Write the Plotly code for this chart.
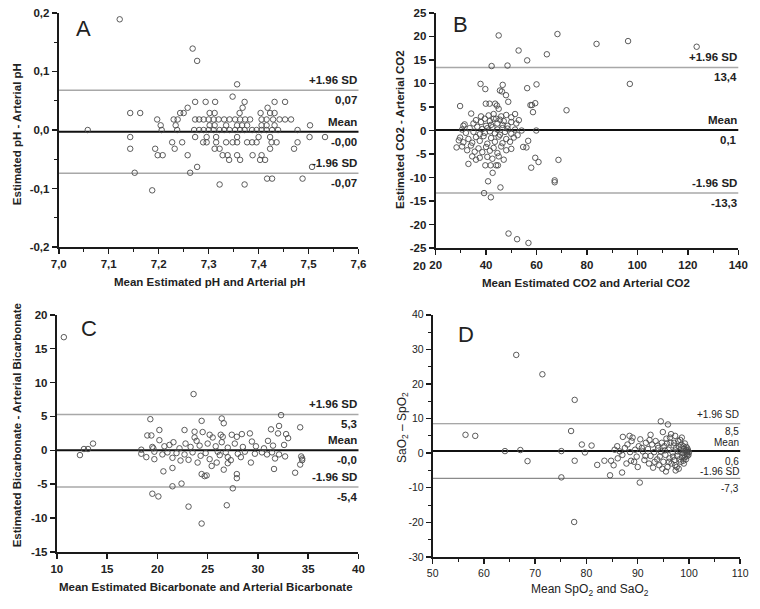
import plotly.graph_objects as go

# ---------------- DATA ----------------
# Panel A: Estimated pH vs arterial pH (Bland-Altman)
A_rows = {
    0.189: [7.122],
    0.139: [7.268],
    0.118: [7.277],
    0.078: [7.357],
    0.057: [7.348],
    0.048: [7.273, 7.294, 7.313, 7.372, 7.432, 7.453],
    0.038: [7.258, 7.368, 7.418],
    0.029: [7.143, 7.163, 7.243, 7.250, 7.302, 7.312, 7.362, 7.404, 7.423, 7.432],
    0.018: [7.197, 7.230, 7.238, 7.273, 7.281, 7.290, 7.300, 7.310, 7.320, 7.331, 7.342,
            7.353, 7.363, 7.373, 7.383, 7.406, 7.416, 7.429, 7.442, 7.453, 7.465],
    0.008: [7.204, 7.234, 7.302, 7.312, 7.335, 7.357, 7.367, 7.377, 7.406, 7.416, 7.432, 7.503],
    0.0: [7.058, 7.206, 7.237, 7.271, 7.281, 7.290, 7.300, 7.310, 7.322, 7.331, 7.342, 7.353,
          7.363, 7.372, 7.387, 7.396, 7.406, 7.416, 7.427, 7.439, 7.478],
    -0.012: [7.143, 7.273, 7.296, 7.315, 7.357, 7.400, 7.423, 7.502, 7.533],
    -0.021: [7.227, 7.247, 7.289, 7.296, 7.315, 7.335, 7.348, 7.357, 7.377, 7.387, 7.396,
             7.426, 7.436, 7.478],
    -0.032: [7.143, 7.193, 7.232, 7.312, 7.322, 7.423, 7.471],
    -0.043: [7.198, 7.208, 7.258, 7.328, 7.338, 7.357, 7.388, 7.406],
    -0.051: [7.341, 7.363, 7.403, 7.413],
    -0.063: [7.277, 7.507],
    -0.073: [7.152, 7.263],
    -0.083: [7.417, 7.427, 7.488],
    -0.093: [7.322, 7.372],
    -0.103: [7.187],
}
A_x = [x for y, xs in A_rows.items() for x in xs]
A_y = [y for y, xs in A_rows.items() for x in xs]
A_limits = [0.068, -0.003, -0.074]
A_labels = ["+1.96 SD", "0,07", "Mean", "-0,00", "-1.96 SD", "-0,07"]

# Panel B: CO2
B_x = [45.0, 68.3, 83.8, 96.3, 123.5, 52.9, 64.1, 56.3, 42.2, 48.5, 97.0, 37.8, 39.7, 46.6,
       45.5, 46.3, 47.9, 56.3, 60.0, 48.8, 29.7, 71.9,
       39.9, 41.4, 43.6, 44.3, 45.0, 57.6, 58.2, 59.5, 58.6,
       34.1, 51.5, 38.0, 41.0, 43.0, 46.0, 48.0, 50.0, 44.0,
       31.5, 31.0, 35.0, 36.0, 38.0, 39.5, 40.0, 41.5, 42.0, 43.0, 44.5, 45.5, 46.5, 47.0,
       48.5, 50.0, 52.0, 53.0,
       30.5, 32.0, 33.5, 35.0, 36.5, 37.5, 38.5, 39.5, 40.5, 41.5, 42.5, 43.5, 44.5, 45.5,
       46.5, 47.5, 48.5, 50.0, 51.5, 54.1, 59.9, 52.5,
       29.7, 29.2, 31.0, 33.0, 34.5, 36.0, 37.5, 39.0, 40.5, 42.0, 43.5, 45.0, 46.5, 48.0,
       49.5, 51.0, 56.7,
       28.3, 30.5, 32.5, 34.0, 35.5, 37.0, 38.5, 40.0, 41.5, 43.0, 44.5, 46.0, 48.0, 50.0,
       54.7, 56.0,
       33.0, 34.5, 36.0, 37.5, 39.7, 41.8, 44.0, 44.7, 40.5, 42.5, 45.0, 47.0, 59.5, 60.8,
       57.9, 68.7,
       42.6, 40.8, 67.2, 67.2, 45.7, 39.2, 41.9, 48.9, 52.3, 56.8]
B_y = [20.2, 20.5, 18.4, 19.0, 17.8, 17.0, 16.2, 14.9, 13.7, 13.8, 9.9, 9.9, 8.8, 9.7,
       8.5, 8.3, 7.5, 9.0, 9.8, 6.1, 5.2, 4.3,
       5.7, 5.7, 5.7, 5.3, 4.6, 5.4, 5.4, 5.8, 3.9,
       3.6, 3.5, 3.0, 3.2, 3.5, 3.0, 3.3, 2.8, 2.5,
       1.3, 1.0, 1.5, 2.2, 1.8, 2.5, 1.0, 2.0, 1.2, 2.5, 1.5, 2.3, 1.2, 2.0,
       1.0, 1.8, 1.5, 2.2,
       0.2, -0.5, 0.5, -0.3, 0.8, -0.8, 0.3, -0.5, 0.5, -0.2, 0.7, -0.6, 0.2, -0.9,
       0.5, -0.3, 0.4, -0.7, 0.2, 0.0, 0.0, -1.0,
       -1.5, -2.1, -2.5, -1.8, -2.6, -1.4, -2.2, -1.2, -2.8, -1.6, -2.4, -1.3, -2.7, -1.8,
       -2.4, -1.5, -2.2,
       -3.6, -3.4, -4.2, -3.2, -4.5, -3.8, -4.6, -3.5, -4.3, -3.7, -4.8, -3.4, -4.2, -3.9,
       -3.5, -3.6,
       -7.1, -5.5, -6.2, -5.8, -7.4, -7.4, -7.4, -7.4, -5.6, -6.0, -5.5, -6.2, -5.8, -6.7,
       -7.9, -6.25,
       -9.0, -10.8, -10.6, -11.0, -12.1, -13.3, -14.2, -21.9, -23.1, -23.9]
B_limits = [13.4, 0.1, -13.3]
B_labels = ["+1.96 SD", "13,4", "Mean", "0,1", "-1.96 SD", "-13,3"]

# Panel C: Bicarbonate
C_x = [10.7, 23.6, 19.3, 32.3, 26.4, 26.6, 24.4, 34.2, 32.1, 31.3, 20.2, 19.0, 19.4, 22.7,
       23.7, 23.7,
       13.6, 13.1, 12.7, 12.3,
       21.5, 22.4, 19.5, 20.1, 23.1, 24.4, 26.9, 27.5, 27.9, 27.9, 24.4, 24.7, 24.9, 26.6,
       29.3, 31.6, 33.7, 34.3, 34.4, 34.2, 34.4, 20.6, 21.5,
       24.5, 25.2, 25.5, 26.3, 26.5, 27.4, 27.9, 28.4, 29.2, 29.4, 31.0, 32.0, 32.8, 33.0,
       32.6, 21.6, 20.7, 21.2, 22.2, 22.8, 23.3, 23.9, 24.2, 25.0, 25.8, 26.4, 27.0, 27.7,
       28.5, 29.8, 30.6, 31.5, 19.6, 20.2, 18.4,
       18.4, 18.9, 19.5, 19.7, 19.7, 20.5, 21.0, 21.5, 21.9, 22.3, 22.7, 23.1, 23.5, 24.0,
       24.3, 24.8, 25.2, 25.4, 25.9, 26.2, 26.8, 27.0, 27.3, 27.0, 28.0, 28.7, 29.7, 30.4,
       30.9, 31.4, 31.7, 32.1, 32.7, 28.3, 26.0]
C_y = [16.7, 8.3, 4.6, 5.2, 4.7, 4.0, 4.35, 3.4, 3.6, 3.1, 3.0, 2.2, 2.2, 3.0,
       2.75, 1.9,
       1.0, 0.2, 0.2, -0.7,
       -5.3, -4.9, -6.4, -6.8, -8.3, -10.8, -8.1, -5.6, -3.5, -4.1, -3.5, -3.8, -3.7, -2.85,
       -1.8, -2.75, -3.3, -0.9, -1.45, -2.1, -1.2, -3.1, -2.6,
       2.7, 2.3, 1.9, 2.3, 2.0, 2.3, 2.0, 2.4, 2.5, 1.3, 1.4, 2.5, 2.4, 1.8,
       0.8, 1.2, 0.6, 0.8, 0.3, 1.0, 0.5, 1.4, 0.7, 1.0, 0.6, 1.2, 0.4, 1.0,
       0.5, 0.6, 0.3, 0.7, 0.3, 1.5, 0.1,
       -0.5, -1.0, 0.5, -0.2, -1.3, -0.6, -0.3, -1.1, -0.4, -1.5, -0.6, -1.4, -0.3, -1.8,
       -0.8, -0.4, -1.3, -2.3, -1.8, -0.7, -0.3, -1.0, -1.45, -1.9, -0.5, -0.2, -0.5, -0.3,
       -0.6, -0.3, -1.2, -0.6, -0.9, -1.0, -0.2]
C_limits = [5.3, -0.0, -5.4]
C_labels = ["+1.96 SD", "5,3", "Mean", "-0,0", "-1.96 SD", "-5,4"]

# Panel D: SpO2 vs SaO2
D_x = [66.3, 71.4, 77.7, 77.0, 56.4, 58.3, 79.1, 81.0, 94.5, 95.9, 94.9, 92.5, 97.3, 87.1,
       88.4, 64.1, 67.1, 75.1, 79.7, 68.5, 75.1, 77.7, 77.6, 82.1, 83.5, 84.8, 86.1, 84.6,
       86.95, 88.7, 90.4,
       85.5, 86.5, 87.5, 88.0, 88.8, 89.5, 89.8, 90.2, 90.5, 91.0, 91.3, 91.6, 92.0, 92.2,
       92.5, 92.8, 93.0, 93.2, 93.5, 93.8, 94.0, 94.2, 94.5, 94.7, 95.0, 95.2, 95.4, 95.6,
       95.8, 96.0, 96.2, 96.4, 96.6, 96.8, 97.0, 97.2, 97.4, 97.5, 97.7, 97.9, 98.0, 98.2,
       98.4, 98.5, 98.7, 98.8, 99.0, 99.1, 99.3, 99.4, 99.5, 99.6, 99.7, 99.8, 100.0, 98.6,
       97.6, 96.5, 95.5, 99.2, 99.0, 98.3,
       85.3, 86.0, 87.0, 87.8, 88.5, 89.0, 89.3, 90.0, 90.8, 91.5, 92.3, 93.3, 93.9, 94.3,
       94.8, 95.3, 95.7, 96.1, 96.3, 96.9, 97.1, 97.3, 97.8, 98.1, 98.1, 98.9, 99.2, 99.4,
       99.6, 99.9, 99.7, 98.9]
D_y = [28.4, 22.8, 15.4, 6.4, 5.3, 5.0, 2.5, 2.2, 9.2, 8.3, 6.1, 5.3, 5.0, 4.7,
       5.0, 0.6, 0.9, 0.6, 0.2, -2.3, -7.0, -2.2, -19.9, -3.4, -2.2, -2.2, -1.5, -6.4,
       -5.6, -2.2, -8.5,
       1.0, 0.5, 1.5, 2.5, 3.5, 1.0, -1.0, 2.0, 4.0, 0.5, -2.0, 3.0, 1.2, -3.0,
       -0.8, 2.5, -4.2, 0.3, 3.5, -1.8, 1.5, -3.5, 0.5, 3.0, -2.5, 2.0, -0.5, 4.2,
       -4.0, 1.0, -1.5, 3.0, -3.0, 0.2, 2.2, -2.0, -5.0, 1.5, -0.8, 3.5, -4.5, 0.8,
       -2.5, 2.5, -1.2, 0.0, 1.2, -0.5, 0.5, -1.8, 1.8, 0.2, -0.8, 0.8, 0.3, 4.5,
       -4.0, 5.5, -5.3, 2.8, -3.0, 3.8,
       -3.5, 2.0, -0.5, -3.0, 0.3, 4.5, -2.5, -4.0, 1.5, -0.8, 3.8, -2.5, 2.2, -1.0,
       -4.5, 0.8, 2.8, -2.5, 4.5, -1.0, 3.0, -3.5, 0.5, -1.8, 1.8, -2.2, -1.2, 0.9,
       -0.3, -0.5, 1.3, 2.0]
D_limits = [8.5, 0.6, -7.3]
D_labels = ["+1.96 SD", "8,5", "Mean", "0,6", "-1.96 SD", "-7,3"]

# Tick values / labels
A_xticks = [7.0, 7.1, 7.2, 7.3, 7.4, 7.5, 7.6]
A_xticktext = ["7,0", "7,1", "7,2", "7,3", "7,4", "7,5", "7,6"]
A_yticks = [-0.2, -0.1, 0.0, 0.1, 0.2]
A_yticktext = ["-0,2", "-0,1", "0,0", "0,1", "0,2"]
B_xticks = [20, 40, 60, 80, 100, 120, 140]
B_yticks = [-25, -20, -15, -10, -5, 0, 5, 10, 15, 20, 25]
C_xticks = [10, 15, 20, 25, 30, 35, 40]
C_yticks = [-15, -10, -5, 0, 5, 10, 15, 20]
D_xticks = [50, 60, 70, 80, 90, 100, 110]
D_yticks = [-30, -20, -10, 0, 10, 20, 30, 40]

titles = {
    "A": ("Mean Estimated pH and Arterial pH", "Estimated pH - Arterial pH"),
    "B": ("Mean Estimated CO2 and Arterial CO2", "Estimated CO2 - Arterial CO2"),
    "C": ("Mean Estimated Bicarbonate and Arterial Bicarbonate",
          "Estimated Bicarbonate - Arterial Bicarbonate"),
    "D": ("Mean SpO<sub>2</sub> and SaO<sub>2</sub>", "SaO<sub>2</sub> – SpO<sub>2</sub>"),
}

# ---------------- FIGURE ----------------
W, H = 760, 609
FONT = "Liberation Sans, Arial, sans-serif"
TXT = "#222222"


def px(v):
    return v / W


def py(v):
    return 1 - v / H


fig = go.Figure()

panels = [
    # key, xdata, ydata, xdom(px), ydom(px top,bottom), xrange, yrange, bold
    ("A", A_x, A_y, (52, 359), (7, 246), [7.0, 7.6], [-0.2, 0.2], True),
    ("B", B_x, B_y, (438, 748), (7, 247), [20, 140], [-25, 25], True),
    ("C", C_x, C_y, (50, 359), (315, 557), [10, 40], [-15, 20], True),
    ("D", D_x, D_y, (435, 750), (315, 562), [50, 110], [-30, 40], False),
]
limits = {"A": A_limits, "B": B_limits, "C": C_limits, "D": D_limits}
labels = {"A": A_labels, "B": B_labels, "C": C_labels, "D": D_labels}
ticks = {
    "A": (A_xticks, A_xticktext, A_yticks, A_yticktext, [7.05 + 0.1 * i for i in range(6)],
          [-0.15, -0.05, 0.05, 0.15]),
    "B": (B_xticks, [str(v) for v in B_xticks], B_yticks, [str(v) for v in B_yticks],
          [30, 50, 70, 90, 110, 130], []),
    "C": (C_xticks, [str(v) for v in C_xticks], C_yticks, [str(v) for v in C_yticks], [], []),
    "D": (D_xticks, [str(v) for v in D_xticks], D_yticks, [str(v) for v in D_yticks],
          [55, 65, 75, 85, 95, 105], [-25, -15, -5, 5, 15, 25, 35]),
}
letter_pos = {"A": (77, 23), "B": (463, 19), "C": (83, 329), "D": (469, 335)}
xtitle_pos = {"A": (206, 282), "B": (592, 283), "C": (203, 593), "D": (596, 596)}
ytitle_pos = {"A": (10, 131), "B": (401, 126), "C": (9, 428), "D": (404, 430)}
# vertical offsets (px) of the six limit labels: above/below each line
label_shift = {
    True: [10, -10, 10, -10, 10, -10],
    False: [9, -8, 9, -10, 7, -10],
}

layout_axes = {}
for i, (key, xs, ys, xd, yd, xr, yr, bold) in enumerate(panels):
    n = "" if i == 0 else str(i + 1)
    xa, ya = "x" + n, "y" + n
    weight = "bold" if bold else "normal"
    fs_tick = 11.5 if bold else 10.5
    tfont = dict(family=FONT, size=fs_tick, color=TXT, weight=weight)
    xt, xtt, yt, ytt, xminor, yminor = ticks[key]
    axcommon = dict(showline=True, linecolor="#1a1a1a", linewidth=2, ticks="outside",
                    ticklen=5, tickwidth=1.5, tickcolor="#1a1a1a", showgrid=False,
                    zeroline=False, tickmode="array", tickfont=tfont, fixedrange=True,
                    ticklabeloverflow="allow")
    layout_axes["xaxis" + n] = dict(axcommon, domain=[px(xd[0]), px(xd[1])], range=xr,
                                    tickvals=xt, ticktext=xtt, anchor=ya,
                                    minor=dict(tickmode="array", tickvals=xminor,
                                               ticks="outside", ticklen=3,
                                               tickcolor="#1a1a1a", tickwidth=1))
    layout_axes["yaxis" + n] = dict(axcommon, domain=[py(yd[1]), py(yd[0])], range=yr,
                                    tickvals=yt, ticktext=ytt, anchor=xa,
                                    minor=dict(tickmode="array", tickvals=yminor,
                                               ticks="outside", ticklen=3,
                                               tickcolor="#1a1a1a", tickwidth=1))

    fig.add_trace(go.Scatter(
        x=xs, y=ys, mode="markers", xaxis=xa, yaxis=ya, showlegend=False, hoverinfo="skip",
        marker=dict(symbol="circle-open", size=5.5, color="#4a4a4a",
                    line=dict(width=0.9, color="#4a4a4a")), cliponaxis=False))

    up, mean, lo = limits[key]
    sd_col = "#a8a8a8" if bold else "#8a8a8a"
    sd_w = 1.5 if bold else 1.2
    for val, col, w in ((up, sd_col, sd_w), (lo, sd_col, sd_w), (mean, "#111111", 2)):
        fig.add_shape(type="line", xref=xa + " domain", yref=ya, x0=0, x1=1, y0=val, y1=val,
                      line=dict(color=col, width=w), layer="below")

    labs = labels[key]
    lfont = dict(family=FONT, size=11.5 if bold else 10, color=TXT, weight=weight)
    sh = label_shift[bold]
    vals = [up, up, mean, mean, lo, lo]
    for val, s, txt in zip(vals, sh, labs):
        fig.add_annotation(xref=xa + " domain", yref=ya, x=1, y=val, text=txt,
                           showarrow=False, xanchor="right", yanchor="middle", yshift=s,
                           font=lfont, borderpad=0)

    lx, ly = letter_pos[key]
    fig.add_annotation(xref="paper", yref="paper", x=px(lx), y=py(ly), text=key,
                       showarrow=False, xanchor="center", yanchor="middle",
                       font=dict(family=FONT, size=22, color=TXT))
    xt_title, yt_title = titles[key]
    tsize = 11.5 if bold else 12
    tx, ty = xtitle_pos[key]
    fig.add_annotation(xref="paper", yref="paper", x=px(tx), y=py(ty), text=xt_title,
                       showarrow=False, xanchor="center", yanchor="middle",
                       font=dict(family=FONT, size=tsize, color=TXT, weight=weight))
    tx, ty = ytitle_pos[key]
    fig.add_annotation(xref="paper", yref="paper", x=px(tx), y=py(ty), text=yt_title,
                       showarrow=False, xanchor="center", yanchor="middle", textangle=-90,
                       font=dict(family=FONT, size=tsize, color=TXT, weight=weight))

# stray duplicated "20" label at the bottom-left of panel B
fig.add_annotation(xref="paper", yref="paper", x=px(421), y=py(265), text="20",
                   showarrow=False, xanchor="center", yanchor="middle",
                   font=dict(family=FONT, size=11.5, color=TXT, weight="bold"))

fig.update_layout(width=W, height=H, margin=dict(l=0, r=0, t=0, b=0),
                  paper_bgcolor="white", plot_bgcolor="white", showlegend=False,
                  hovermode=False, **layout_axes)

fig.write_html("out.html", config={"displayModeBar": False, "staticPlot": True},
               post_script="document.body.style.margin='0';"
                           "document.documentElement.style.margin='0';")
